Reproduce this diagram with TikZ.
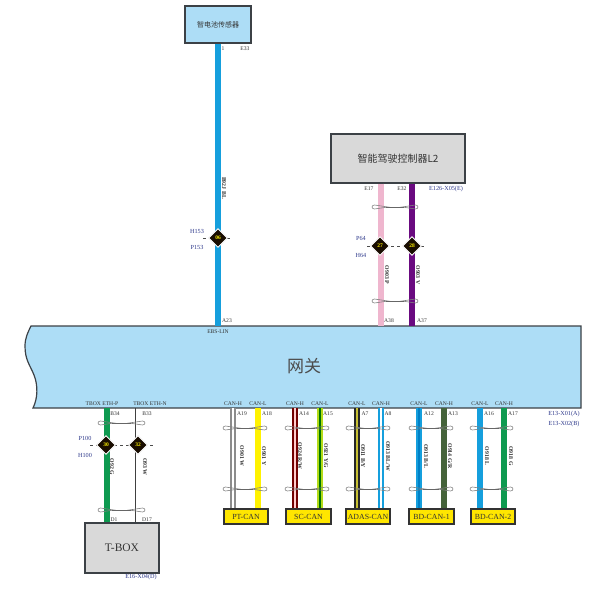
\documentclass[tikz,border=0pt]{standalone}
\usepackage{fontspec}
\setmainfont{Liberation Serif}
\newfontfamily\cjk{Noto Sans CJK SC}
\usetikzlibrary{shapes.geometric}
\definecolor{gwblue}{HTML}{ADDDF6}
\definecolor{cableblue}{HTML}{159FDD}
\definecolor{edgegray}{HTML}{3C4146}
\definecolor{boxgray}{HTML}{D9D9D9}
\definecolor{labelblue}{HTML}{2F3A8C}
\definecolor{txt}{HTML}{333333}
\definecolor{pinkwire}{HTML}{EFB6CE}
\definecolor{purplewire}{HTML}{6A0A80}
\definecolor{greenwire}{HTML}{0E9A50}
\definecolor{olivewire}{HTML}{45633A}
\definecolor{busyellow}{HTML}{FFE600}
\tikzset{
  x=1pt,y=-1pt,
  tiny label/.style={font=\fontsize{5.6}{6}\selectfont,text=txt,inner sep=0pt},
  blue label/.style={font=\fontsize{6.2}{7}\selectfont,text=labelblue,inner sep=0pt},
  wire label/.style={font=\fontsize{5.8}{6}\bfseries\selectfont,text=txt,inner sep=0pt,rotate=-90},
  module/.style={draw=edgegray,line width=1.3pt,fill=boxgray,inner sep=0pt,text=txt},
  busbox/.style={draw=black!80,line width=1.1pt,fill=busyellow,inner sep=0pt,text=txt,
    minimum height=15pt,font=\fontsize{7.8}{9}\selectfont},
  wire/.style={line width=5.5pt,draw=#1},
  wiretwo/.style n args={2}{draw=#1,double=#2,double distance=2.4pt,line width=1.6pt},
  splice/.style={shape=diamond,fill=black!90!orange,draw=white,line width=.9pt,inner sep=0pt,
    minimum width=19pt,minimum height=19pt,text=yellow,font=\fontsize{5.5}{6}\bfseries\selectfont},
  twistline/.style={draw=gray,line width=.6pt},
  splicedash/.style={draw=black!70,line width=.4pt,dash pattern=on 3pt off 3pt},
}
\newcommand{\twistpair}[3]{%
  \draw[twistline] (#1+2.5,#3-2) .. controls (#1-.8,#3-2) and (#1-.8,#3+2) .. (#1+2.5,#3+2)
     -- (#1+16,#3) -- (#1+2.5,#3-2);
  \draw[twistline] (#2-2.5,#3-2) .. controls (#2+.8,#3-2) and (#2+.8,#3+2) .. (#2-2.5,#3+2)
     -- (#2-16,#3) -- (#2-2.5,#3-2);
  \draw[draw=black!60,line width=.6pt] (#1+14,#3) -- (#2-14,#3);
}
\begin{document}
\begin{tikzpicture}
\useasboundingbox (0,0) rectangle (601,599);
\fill[white] (0,0) rectangle (601,599);

% gateway
\draw[draw=edgegray,line width=1.2pt,fill=gwblue]
  (31,326) -- (581,326) -- (581,408) -- (33,408)
  .. controls (38,398) and (38,385) .. (34,375)
  .. controls (30,365) and (25,360) .. (25,346)
  .. controls (25,338) and (28,332) .. (31,326) -- cycle;
\node[font=\fontsize{17}{18}\cjk\selectfont,text=black!70] (gw) at (304,366) {网关};
\node[tiny label] (ebs) at (218,332) {EBS-LIN};

% end coordinates on the gateway
\foreach \n/\x in {ga/218,gb/381,gc/412} \coordinate (\n) at (\x,326);
\foreach \n/\x in {ba/107,bb/135.5,c1/233,c2/258,c3/295,c4/320,c5/357,c6/381,c7/419,c8/444,c9/480,c10/504}
  \coordinate (\n) at (\x,408);

% modules
\node[module,fill=gwblue,minimum width=66pt,minimum height=37pt,font=\cjk\fontsize{7}{8}\selectfont] (sensor) at (218,24.5) {智电池传感器};
\node[module,minimum width=134pt,minimum height=49pt,font=\cjk\fontsize{10}{11}\selectfont] (adas) at (398,158.5) {智能驾驶控制器L2};
\node[module,minimum width=74pt,minimum height=50pt,font=\fontsize{11.5}{12}\selectfont] (tbox) at (122,548) {T-BOX};

% wires
\draw[wire=cableblue] (sensor.south) -- (ga);
\draw[wire=pinkwire] (adas.south -| gb) -- (gb);
\draw[wire=purplewire] (adas.south -| gc) -- (gc);
\draw[wire=greenwire] (ba) -- (tbox.north -| ba);
\draw[draw=black!75,line width=.8pt] (bb) -- (tbox.north -| bb);

\node[busbox,minimum width=44pt] (pt) at (246,516.5) {PT-CAN};
\node[busbox,minimum width=45pt] (sc) at (308.5,516.5) {SC-CAN};
\node[busbox,minimum width=44pt] (ad) at (368,516.5) {ADAS-CAN};
\node[busbox,minimum width=45pt] (bd1) at (431.5,516.5) {BD-CAN-1};
\node[busbox,minimum width=44pt] (bd2) at (493,516.5) {BD-CAN-2};

\draw[wiretwo={gray!90}{white}] (c1) -- (pt.north -| c1);
\draw[wire=yellow] (c2) -- (pt.north -| c2);
\draw[wiretwo={red!45!black}{pink!80}] (c3) -- (sc.north -| c3);
\draw[wiretwo={yellow!70!green}{green!45!black}] (c4) -- (sc.north -| c4);
\draw[wiretwo={black!85}{yellow!75!black}] (c5) -- (ad.north -| c5);
\draw[wiretwo={cableblue}{white}] (c6) -- (ad.north -| c6);
\draw[wiretwo={cableblue}{black!45!blue!50!cyan}] (c7) -- (bd1.north -| c7);
\draw[wire=olivewire] (c8) -- (bd1.north -| c8);
\draw[wire=cableblue] (c9) -- (bd2.north -| c9);
\draw[wire=greenwire] (c10) -- (bd2.north -| c10);

% twisted pairs
\twistpair{372}{418}{207}
\twistpair{372}{418}{301}
\twistpair{98}{145}{423}
\twistpair{98}{145}{510}
\twistpair{223}{267}{428}
\twistpair{223}{267}{489}
\twistpair{285}{329}{428}
\twistpair{285}{329}{489}
\twistpair{346}{390}{428}
\twistpair{346}{390}{489}
\twistpair{409}{453}{428}
\twistpair{409}{453}{489}
\twistpair{470}{513}{428}
\twistpair{470}{513}{489}

% splices
\coordinate (d1l) at (203,238); \coordinate (d1r) at (232,238);
\coordinate (d2l) at (367,246); \coordinate (d2r) at (425,246);
\coordinate (d3l) at (90,445); \coordinate (d3r) at (153,445);
\draw[splicedash] (d1l) -- (d1r);
\draw[splicedash] (d2l) -- (d2r);
\draw[splicedash] (d3l) -- (d3r);
\node[splice] (s06) at (218,238) {06};
\node[splice] (s27) at (380,246) {27};
\node[splice] (s28) at (412,246) {28};
\node[splice] (s30) at (106,445) {30};
\node[splice] (s32) at (138,445) {32};

% pin labels
\foreach \x/\y/\t in {223/49/1,245/49/E33,369/189/E17,402/189/E32,389/321/A38,422/321/A37,227/321/A23,
  115/414/B34,147/414/B33,114/520/D1,147/520/D17,
  242/414/A19,267/414/A18,304/414/A14,328/414/A15,365/414/A7,388/414/A8,429/414/A12,453/414/A13,489/414/A16,513/414/A17,
  102/404/TBOX ETH-P,150/404/TBOX ETH-N,
  233/404/CAN-H,258/404/CAN-L,295/404/CAN-H,320/404/CAN-L,357/404/CAN-L,381/404/CAN-H,419/404/CAN-L,444/404/CAN-H,480/404/CAN-L,504/404/CAN-H}
  \node[tiny label] at (\x,\y) {\t};
\foreach \x/\y/\t in {197/231/H153,197/247/P153,361/238/P64,361/255/H64,85/438/P100,85/455/H100,
  446/189/E126-X05(E),141/577/E16-X04(D),564/414/E13-X01(A),564/424/E13-X02(B)}
  \node[blue label] at (\x,\y) {\t};

% wire labels
\foreach \x/\y/\t in {224/188/B92J BL,387/275/O903 P,418/275/O903 V,112/467/O92 G,145/467/O93 W,
  242/456/O901 W,264/456/O901 Y,300/456/{O924 R/W},326/456/{O921 Y/G},363/456/{O911 B/Y},388/456/{O913 BL/W},
  426/456/{O913 B/L},450/456/{O914 G/R},487/456/O918 L,511/456/O918 G}
  \node[wire label] at (\x,\y) {\t};
\end{tikzpicture}
\end{document}
